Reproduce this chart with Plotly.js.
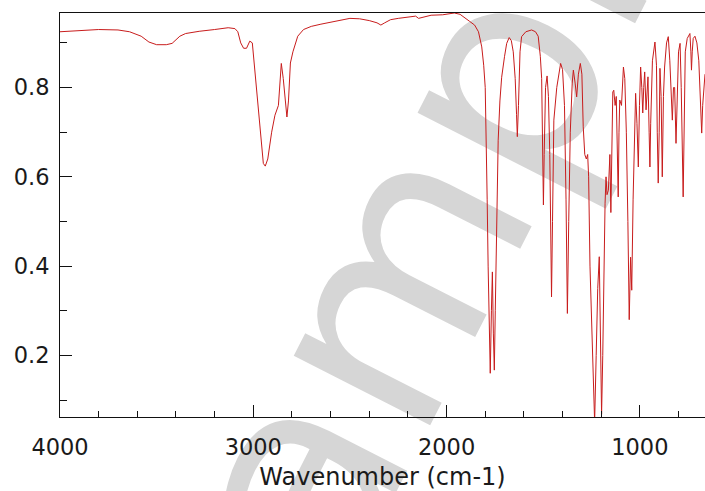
<!DOCTYPE html>
<html>
<head>
<meta charset="utf-8">
<script src="https://cdn.plot.ly/plotly-3.0.1.min.js"></script>
<style>
html,body{margin:0;padding:0;background:#fff;}
#chart{width:705px;height:491px;}
</style>
</head>
<body>
<div id="chart"></div>
<script>
// Wavenumber (cm-1)
const wavenumber = [
4000,3900,3800,3700,3640,3580,3540,3500,3450,3420,3380,3350,3280,3200,3130,3095,3080,3065,3050,3035,
3018,3005,2985,2965,2948,2938,2925,2905,2888,2870,2855,2845,2832,2826,2818,2808,2795,2770,2740,2700,
2650,2600,2550,2500,2450,2400,2360,2340,2320,2290,2250,2200,2160,2145,2130,2080,2020,1960,1930,1905,
1880,1855,1835,1818,1808,1800,1795,1790,1785,1780,1774,1768,1763,1758,1753,1748,1741,1733,1724,1715,
1700,1689,1676,1665,1655,1645,1638,1634,1628,1620,1612,1590,1560,1540,1526,1515,1508,1503,1499,1495,
1488,1480,1473,1466,1460,1457,1452,1445,1430,1418,1410,1400,1390,1382,1375,1368,1360,1350,1344,1335,
1327,1318,1308,1300,1293,1285,1277,1270,1265,1258,1250,1242,1234,1226,1218,1210,1203,1198,1192,1185,
1180,1175,1170,1163,1155,1150,1145,1140,1135,1128,1122,1115,1112,1108,1104,1095,1085,1078,1070,1062,
1055,1048,1042,1035,1028,1022,1015,1008,1002,996,990,985,980,975,968,963,958,952,948,944,
935,922,914,910,905,900,896,890,884,878,872,862,853,845,838,832,826,820,813,806,
800,792,786,776,770,765,755,748,741,736,733,729,724,715,705,695,688,680,675,668,663
];
// Transmittance
const transmittance = [
0.925,0.927,0.930,0.929,0.925,0.915,0.902,0.896,0.896,0.899,0.915,0.921,0.926,0.930,0.934,0.932,0.925,0.900,0.888,0.888,
0.904,0.900,0.800,0.700,0.630,0.624,0.640,0.700,0.738,0.760,0.854,0.820,0.760,0.734,0.770,0.855,0.880,0.915,0.930,0.937,
0.942,0.946,0.950,0.955,0.954,0.950,0.945,0.940,0.945,0.952,0.955,0.958,0.960,0.955,0.957,0.962,0.963,0.967,0.964,0.955,
0.948,0.940,0.925,0.891,0.850,0.800,0.700,0.550,0.400,0.250,0.160,0.300,0.387,0.250,0.167,0.300,0.473,0.682,0.770,0.823,
0.870,0.899,0.912,0.905,0.880,0.820,0.740,0.690,0.760,0.880,0.914,0.925,0.929,0.925,0.915,0.870,0.820,0.700,0.537,0.650,
0.800,0.826,0.780,0.650,0.400,0.331,0.500,0.727,0.800,0.840,0.854,0.840,0.760,0.550,0.294,0.500,0.700,0.810,0.839,0.810,
0.779,0.830,0.854,0.830,0.712,0.650,0.640,0.650,0.600,0.400,0.264,0.150,0.050,0.200,0.350,0.421,0.250,0.068,0.200,0.450,
0.541,0.600,0.560,0.570,0.650,0.520,0.650,0.790,0.794,0.760,0.780,0.650,0.555,0.700,0.772,0.760,0.846,0.820,0.700,0.500,
0.280,0.420,0.346,0.550,0.720,0.787,0.720,0.622,0.760,0.846,0.800,0.743,0.800,0.835,0.750,0.780,0.824,0.700,0.622,0.720,
0.860,0.902,0.850,0.700,0.586,0.700,0.843,0.780,0.600,0.780,0.846,0.900,0.914,0.860,0.800,0.727,0.800,0.800,0.675,0.800,
0.880,0.899,0.800,0.555,0.750,0.880,0.910,0.915,0.921,0.880,0.839,0.880,0.910,0.915,0.900,0.860,0.780,0.698,0.760,0.820,0.830
];
const xTickVals = [4000,3000,2000,1000];
const xTickText = ['4000','3000','2000','1000'];
const yTickVals = [0.2,0.4,0.6,0.8];
const yTickText = ['0.2','0.4','0.6','0.8'];
const xTitle = 'Wavenumber (cm-1)';
const watermark = 'Sample';

const font = {family:'DejaVu Sans, sans-serif', size:22.5, color:'#1a1a1a'};

const trace = {
  x: wavenumber, y: transmittance, type:'scatter', mode:'lines',
  line:{color:'#c81c1c', width:1}, hoverinfo:'skip'
};

const layout = {
  width:705, height:491,
  margin:{l:60, r:0, t:13, b:74, pad:0},
  paper_bgcolor:'#ffffff', plot_bgcolor:'rgba(0,0,0,0)',
  showlegend:false,
  xaxis:{
    range:[4000,663], autorange:false,
    tickvals:xTickVals, ticktext:xTickText,
    ticks:'inside', ticklen:12, tickwidth:1, tickcolor:'#111',
    minor:{dtick:200, tick0:0, ticks:'inside', ticklen:6, tickwidth:1, tickcolor:'#111'},
    showline:true, linecolor:'#111', linewidth:1, mirror:true,
    showgrid:false, zeroline:false,
    tickfont:font, ticklabelstandoff:10,
    title:{text:xTitle, font:{family:'DejaVu Sans, sans-serif', size:24, color:'#1a1a1a'}, standoff:11}
  },
  yaxis:{
    range:[0.062,0.967], autorange:false,
    tickvals:yTickVals, ticktext:yTickText,
    ticks:'inside', ticklen:12, tickwidth:1, tickcolor:'#111',
    minor:{dtick:0.1, tick0:0, ticks:'inside', ticklen:7, tickwidth:1, tickcolor:'#111'},
    showline:true, linecolor:'#111', linewidth:1, mirror:false,
    showgrid:false, zeroline:false,
    tickfont:font, ticklabelstandoff:5
  },
  shapes:[{
    type:'rect', xref:'paper', yref:'paper', layer:'below',
    x0:0.517, x1:0.519, y0:0.441, y1:0.443,
    line:{width:0}, fillcolor:'rgba(0,0,0,0)',
    label:{text:watermark, textangle:-63, textposition:'middle center',
      font:{family:'DejaVu Sans, sans-serif', size:280, color:'#d6d6d6'}}
  }]
};

Plotly.newPlot('chart',[trace],layout,{displayModeBar:false, staticPlot:true});
</script>
</body>
</html>
